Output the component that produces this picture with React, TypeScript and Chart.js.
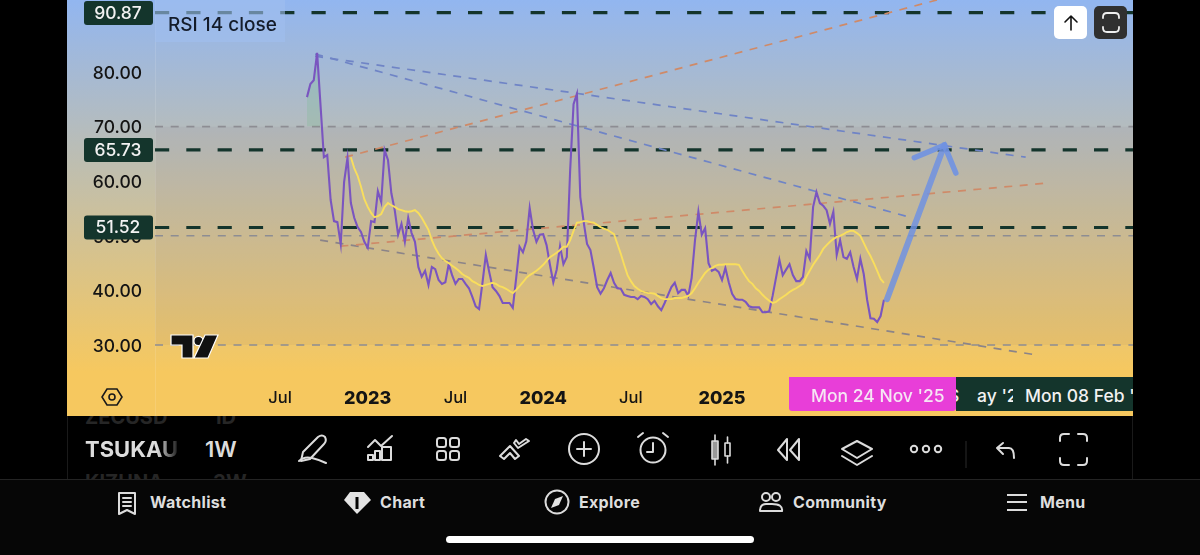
import React, { useEffect, useRef } from "react";
import { Chart, registerables } from "chart.js";

Chart.register(...registerables);

// weekly RSI(14), first point = week 0 (about late Aug 2022)
const rsiValues = [
  75.4,77.8,78.5,83.5,74.0,64.4,64.8,56.6,52.7,52.5,
  48.5,59.9,64.3,56.0,53.3,51.6,50.7,48.9,47.8,52.7,
  52.5,58.2,56.2,65.7,63.9,57.8,54.7,50.2,52.2,48.9,
  53.3,50.5,48.9,44.3,42.5,43.6,41.0,44.3,43.9,41.9,
  41.2,41.5,44.8,42.8,41.2,42.1,42.1,41.2,40.4,38.8,
  37.1,36.6,41.4,46.5,43.4,40.6,39.9,39.0,37.7,37.7,
  37.7,36.8,42.3,48.0,47.0,49.0,55.1,51.1,48.9,50.2,
  50.3,48.3,44.7,41.5,43.8,48.1,44.8,46.1,62.1,74.1,
  76.0,57.1,52.5,48.5,47.4,44.1,40.6,39.4,40.4,41.9,
  43.2,41.4,40.4,40.3,39.2,39.0,38.8,38.8,38.4,39.0,
  38.8,38.4,37.5,38.1,37.1,36.4,37.7,39.2,40.6,41.4,
  39.5,40.1,40.1,39.0,42.3,49.2,54.4,50.2,51.4,45.0,
  43.6,43.9,43.4,41.9,44.1,41.5,39.4,38.4,38.3,38.3,
  37.9,37.1,36.9,36.9,36.9,36.0,36.0,36.2,39.0,42.3,
  45.6,42.8,43.8,44.8,42.8,41.7,41.7,42.5,47.2,45.8,
  55.3,58.0,56.0,55.5,54.7,52.2,54.4,46.5,49.2,46.1,
  45.8,47.0,44.3,42.1,45.8,43.0,38.3,34.9,34.8,34.2,
  35.3,38.3,
];

// RSI moving average, starts at week 13
const maStartWeek = 13;
const maValues = [
  64.4,62.4,61.0,59.0,56.7,55.3,54.2,53.4,53.6,54.0,
  55.3,56.0,55.6,55.3,54.9,54.7,54.5,54.4,54.5,54.7,
  54.2,53.3,52.2,51.1,49.2,47.8,46.7,45.9,45.4,45.0,
  44.5,44.1,43.6,43.0,42.6,42.3,41.7,41.4,41.0,40.8,
  41.0,41.2,41.4,41.2,40.8,40.6,40.3,39.9,39.5,40.1,
  40.8,41.5,42.3,42.8,43.2,43.6,44.1,44.7,45.4,46.1,
  46.5,46.9,47.4,48.0,48.0,49.2,50.9,52.4,52.5,52.7,
  52.7,52.5,52.4,52.0,51.6,51.3,51.1,50.7,50.3,48.5,
  46.7,44.7,42.8,41.7,40.8,40.3,39.9,39.7,39.5,39.5,
  39.4,39.0,38.6,38.4,38.4,38.4,38.6,38.6,38.6,38.8,
  39.0,39.5,40.4,41.4,42.3,43.2,43.8,44.1,44.5,44.7,
  44.7,44.8,44.8,44.8,44.8,44.7,43.6,42.6,41.7,41.2,
  40.4,39.9,39.2,38.6,38.1,37.7,37.9,38.4,38.8,39.2,
  39.7,40.1,40.4,40.8,41.2,42.5,43.6,44.7,45.6,46.5,
  47.6,48.3,48.9,49.4,49.8,50.0,50.3,50.7,50.9,50.9,
  50.5,50.0,48.7,47.4,46.3,45.0,43.6,42.1,41.4,
];

const yTicks = [30, 40, 50, 60, 70, 80];
const xTickWeeks = [-8, 18, 44, 70, 96, 123];
const xTickLabels = ["Jul", "2023", "Jul", "2024", "Jul", "2025"];

const priceLevels = [90.87, 65.73, 51.52];
const bandLevels = [70, 50, 30];

const X_MIN = -45.05;
const X_MAX = 244.81;
const Y_MAX = 93.19;
const Y_MIN = 23.96;

// trend lines: [week, value] pairs
const blueUpper = [[2.4, 82.9], [213, 64.4]];
const blueLower = [[2.4, 83.3], [178.7, 53.4]];
const orangeUpper = [[11.3, 64.4], [186.7, 93.19]];
const orangeLower = [[9.9, 48.1], [220.2, 59.7]];
const grayLower = [[3.9, 49.2], [216, 28.2]];
const arrowShaft = [[171.9, 38.4], [188.9, 66.6]];
const arrowHead = [[180, 64.3], [188.9, 66.6], [192.3, 61.5]];

const pts = (a: number[][]) => a.map(([x, y]) => ({ x, y }));
const font = "Inter, 'Noto Sans', sans-serif";

const bgPlugin = {
  id: "bg",
  beforeDraw(c: any) {
    const { ctx, width, height, chartArea, scales } = c;
    const g = ctx.createLinearGradient(0, 0, 0, 372);
    g.addColorStop(0, "#92b6f0");
    g.addColorStop(1, "#f6c85f");
    ctx.save();
    ctx.fillStyle = g;
    ctx.fillRect(0, 0, width, height);
    const t = scales.y.getPixelForValue(70);
    const b = scales.y.getPixelForValue(30);
    ctx.fillStyle = "rgba(110,80,110,0.07)";
    ctx.fillRect(chartArea.left, t, chartArea.right - chartArea.left, b - t);
    ctx.fillStyle = "rgba(255,255,255,0.12)";
    ctx.fillRect(chartArea.left, 0, 1, height);
    ctx.restore();
  },
};

const tagPlugin = {
  id: "tags",
  afterDraw(c: any) {
    const { ctx, scales } = c;
    ctx.save();
    priceLevels.forEach((v) => {
      const y = scales.y.getPixelForValue(v);
      ctx.fillStyle = "#14352c";
      ctx.beginPath();
      ctx.roundRect(17, Math.max(y - 12, 1), 69, 24, 3);
      ctx.fill();
      ctx.fillStyle = "#f2f2f2";
      ctx.font = `500 17.5px ${font}`;
      ctx.textAlign = "center";
      ctx.textBaseline = "middle";
      ctx.fillText(v.toFixed(2), 51, Math.max(y, 13) + 0.5);
    });
    ctx.restore();
  },
};

const stroke = { stroke: "#dcdcdc", strokeWidth: 2, fill: "none", strokeLinecap: "round", strokeLinejoin: "round" } as const;

const ToolbarIcons = () => (
  <svg width={1200} height={555} style={{ position: "absolute", left: 0, top: 0, pointerEvents: "none" }}>
    {/* pen */}
    <g {...stroke}>
      <path d="M303 452 L318 437 Q322 434 325 437 Q327 441 324 444 L310 459 L301 461 Z" />
      <path d="M299 461 Q304 456 312 458 Q320 460 326 463" />
    </g>
    {/* chart */}
    <g {...stroke}>
      <path d="M368 447 L375 440 L381 446 L392 436" />
      <rect x="368" y="455" width="5" height="5" />
      <rect x="375" y="451" width="5" height="9" />
      <rect x="382" y="447" width="9" height="13" />
    </g>
    {/* grid */}
    <g {...stroke}>
      <rect x="437" y="438" width="9" height="9" rx="2.5" />
      <rect x="450" y="438" width="9" height="9" rx="2.5" />
      <rect x="437" y="451" width="9" height="9" rx="2.5" />
      <rect x="450" y="451" width="9" height="9" rx="2.5" />
    </g>
    {/* patterns */}
    <g {...stroke}>
      <path d="M500 456 L510 446 L519 456 L515 459 L510 453 L504 459 Z" />
      <path d="M514 443 L518 448 L529 441 L526 439 L519 444 L516 440 Z" />
    </g>
    {/* plus */}
    <g {...stroke}>
      <circle cx="584" cy="449" r="15" />
      <path d="M584 442 V456 M577 449 H591" />
    </g>
    {/* alarm */}
    <g {...stroke}>
      <circle cx="653" cy="450" r="12.5" />
      <path d="M653 443 V452 H647 M638 437 L643 433 M668 437 L663 433" />
    </g>
    {/* candles */}
    <g {...stroke} strokeWidth={1.6}>
      <rect x="712" y="441" width="6" height="18" fill="#999" />
      <path d="M715 435 V441 M715 459 V465" />
      <rect x="725" y="443" width="5" height="13" />
      <path d="M727.5 437 V443 M727.5 456 V463" />
    </g>
    {/* replay */}
    <g {...stroke}>
      <path d="M787 439 L778 450 L787 460 Z M799 439 L790 450 L799 460 Z" />
    </g>
    {/* layers */}
    <g {...stroke}>
      <path d="M857 441 L872 449 L857 458 L842 449 Z" />
      <path d="M842 456 L857 465 L872 456" />
    </g>
    {/* dots */}
    <g {...stroke}>
      <circle cx="914" cy="449" r="3.2" />
      <circle cx="926" cy="449" r="3.2" />
      <circle cx="938" cy="449" r="3.2" />
    </g>
    <path d="M966 441 V468" stroke="#2a2a2a" strokeWidth={1} />
    {/* undo */}
    <g {...stroke}>
      <path d="M1003 443 L997 448 L1003 454 M997 448 H1009 Q1014 448 1014 458" />
    </g>
    {/* fullscreen */}
    <g {...stroke}>
      <path d="M1060 441 V438 Q1060 434 1064 434 H1069 M1078 434 H1083 Q1087 434 1087 438 V441 M1060 458 V461 Q1060 465 1064 465 H1069 M1078 465 H1083 Q1087 465 1087 461 V458" />
    </g>
    {/* nav icons */}
    <g {...stroke}>
      <path d="M119 493 H135 V514 L127 510 L119 514 Z M123 498 H131 M123 502 H131 M123 506 H131" />
    </g>
    <path d="M350 492 H364 L371 500 L357 514 L344 500 Z" fill="#e4e4e4" />
    <path d="M357 497 V509" stroke="#060606" strokeWidth={3} />
    <g {...stroke}>
      <circle cx="557" cy="502" r="11.5" />
    </g>
    <path d="M563 496 L559 505 L551 508 L555 499 Z" fill="#e4e4e4" />
    <g {...stroke}>
      <circle cx="766" cy="497" r="4" />
      <circle cx="776" cy="497" r="4" />
      <path d="M760 511 Q760 504 766 504 H772 Q783 504 782 511 Z" />
    </g>
    <path d="M1007 495 H1027 M1007 502 H1027 M1007 510 H1027" stroke="#dcdcdc" strokeWidth={2} />
    {/* hexagon settings */}
    <g stroke="#1a1a1a" strokeWidth={1.6} fill="none">
      <path d="M107 389 H117 L122 397 L117 405 H107 L102 397 Z" />
      <circle cx="112" cy="397" r="3" />
    </g>
    {/* logo */}
    <g fill="#111" stroke="#fff" strokeWidth={1.2}>
      <path d="M171 335 H193 V358 H182 V345 H171 Z" />
      <circle cx="198.5" cy="341" r="4.6" />
      <path d="M205 335 H218 L208 358 H194 Z" />
    </g>
    {/* top right buttons */}
    <path d="M1071 30 V16 M1065 22 L1071 16 L1077 22" stroke="#111" strokeWidth={1.6} fill="none" strokeLinecap="round" strokeLinejoin="round" />
    <path d="M1103 18 V17 Q1103 13 1107 13 H1115 Q1119 13 1119 17 V18 M1103 27 V28 Q1103 32 1107 32 H1115 Q1119 32 1119 28 V27" stroke="#eee" strokeWidth={1.8} fill="none" strokeLinecap="round" />
  </svg>
);

const T = ({ x, y, s, c = "#dedede", w = 700, ls = 0, children }: any) => (
  <div style={{ position: "absolute", left: x, top: y, fontFamily: font, fontSize: s, color: c, fontWeight: w, letterSpacing: ls, lineHeight: "1", whiteSpace: "nowrap" }}>
    {children}
  </div>
);

export default function App() {
  const ref = useRef<HTMLCanvasElement>(null);
  useEffect(() => {
    document.body.style.margin = "0";
    document.body.style.background = "#000";
    const levelLine = (v: number, color: string, width: number, dash: number[]) => ({
      data: [{ x: X_MIN, y: v }, { x: X_MAX, y: v }],
      borderColor: color,
      borderWidth: width,
      borderDash: dash,
    });
    const trend = (a: number[][], color: string) => ({
      data: pts(a),
      borderColor: color,
      borderWidth: 1.7,
      borderDash: [8, 7.5],
    });
    const chart = new Chart(ref.current!, {
      type: "line",
      data: {
        datasets: [
          { data: pts(arrowShaft), borderColor: "rgba(112,146,226,0.85)", borderWidth: 6, borderCapStyle: "round" },
          { data: pts(arrowHead), borderColor: "rgba(112,146,226,0.9)", borderWidth: 5.5, borderCapStyle: "round" },
          { data: maValues.map((y, i) => ({ x: maStartWeek + i, y })), borderColor: "#f9de5c", borderWidth: 1.9 },
          { data: rsiValues.map((y, i) => ({ x: i, y })), borderColor: "#7a55c0", borderWidth: 2.1 },
          {
            data: rsiValues.slice(0, 5).map((y, i) => ({ x: i, y })),
            borderColor: "transparent",
            borderWidth: 0,
            fill: { value: 70, above: "rgba(110,185,130,0.22)", below: "transparent" },
          },
          trend(blueUpper, "#6f84c6"),
          trend(blueLower, "#6f84c6"),
          trend(orangeUpper, "#cf8a68"),
          trend(orangeLower, "#cf8a68"),
          trend(grayLower, "#8b8488"),
          ...priceLevels.map((v) => levelLine(v, "#14352c", 3.2, [14.2, 17.1])),
          ...bandLevels.map((v) => levelLine(v, "#8d8d93", 1.6, [8, 7.7])),
        ] as any,
      },
      options: {
        responsive: false,
        animation: false,
        layout: { padding: 0 },
        elements: { point: { radius: 0 }, line: { tension: 0 } },
        plugins: { legend: { display: false }, tooltip: { enabled: false } },
        events: [],
        scales: {
          x: {
            type: "linear",
            min: X_MIN,
            max: X_MAX,
            grid: { display: false, drawTicks: false },
            border: { display: false },
            afterBuildTicks: (a: any) => { a.ticks = xTickWeeks.map((value) => ({ value })); },
            afterFit: (a: any) => { a.height = 38; a.paddingLeft = 0; a.paddingRight = 0; },
            ticks: {
              autoSkip: false,
              maxRotation: 0,
              padding: 10,
              color: "#141414",
              callback: (v: any) => xTickLabels[xTickWeeks.indexOf(v)],
              font: (c: any) => /^20/.test(xTickLabels[c.index] || "")
                ? { family: font, size: 18, weight: 800 }
                : { family: font, size: 16.5, weight: 500 },
            },
          },
          y: {
            min: Y_MIN,
            max: Y_MAX,
            grid: { display: false, drawTicks: false },
            border: { display: false },
            afterBuildTicks: (a: any) => { a.ticks = yTicks.map((value) => ({ value })); },
            afterFit: (a: any) => { a.width = 88; a.paddingTop = 0; a.paddingBottom = 0; },
            ticks: {
              padding: 13,
              labelOffset: 1.5,
              color: "#141414",
              font: { family: font, size: 17.5, weight: 500 },
              callback: (v: any) => Number(v).toFixed(2),
            },
          },
        },
      } as any,
      plugins: [bgPlugin, tagPlugin] as any,
    });
    return () => chart.destroy();
  }, []);

  return (
    <div style={{ position: "fixed", left: 0, top: 0, width: 1200, height: 555, background: "#000", overflow: "hidden" }}>
      <canvas ref={ref} width={1066} height={416} style={{ position: "absolute", left: 67, top: 0, width: 1066, height: 416 }} />
      {/* legend */}
      <div style={{ position: "absolute", left: 155, top: 0, width: 130, height: 42, background: "rgba(160,190,238,0.6)" }} />
      <T x={168} y={15} s={19} c="#141c2a" w={500}>RSI 14 close</T>
      {/* date pills */}
      <div style={{ position: "absolute", left: 956, top: 377, width: 177, height: 34, background: "#14352c", overflow: "hidden" }}>
        <T x={-8} y={10} s={17.5} c="#f2f2f2" w={500}>S</T>
        <div style={{ position: "absolute", left: 21, top: 0, width: 36, height: 34, overflow: "hidden" }}>
          <T x={0} y={10} s={17.5} c="#f2f2f2" w={500}>ay '2</T>
        </div>
        <T x={69} y={10} s={17.5} c="#f2f2f2" w={500}>Mon 08 Feb '</T>
      </div>
      <div style={{ position: "absolute", left: 789, top: 377, width: 167, height: 34, background: "#e83ed8", borderRadius: "0 0 3px 3px" }}>
        <T x={22} y={10} s={17.5} c="#f6e6f4" w={500}>Mon 24 Nov '25</T>
      </div>
      {/* top right buttons */}
      <div style={{ position: "absolute", left: 1054, top: 6, width: 33, height: 33, background: "#fff", borderRadius: 5 }} />
      <div style={{ position: "absolute", left: 1094, top: 6, width: 33, height: 33, background: "#303030", borderRadius: 5 }} />
      {/* toolbar */}
      <div style={{ position: "absolute", left: 67, top: 416, width: 1066, height: 63, borderLeft: "1px solid #1a1a1a", borderRight: "1px solid #1a1a1a", boxSizing: "border-box", overflow: "hidden" }}>
        <T x={17} y={-9} s={20} c="#262626">ZECUSD</T>
        <T x={145} y={-9} s={20} c="#262626">1D</T>
        <T x={17} y={56} s={20} c="#262626">KIZUNA</T>
        <T x={145} y={56} s={20} c="#262626">3W</T>
      </div>
      <div style={{ position: "absolute", left: 85, top: 436, width: 96, height: 28, overflow: "hidden", WebkitMaskImage: "linear-gradient(90deg,#000 75%,transparent)", maskImage: "linear-gradient(90deg,#000 75%,transparent)" }}>
        <T x={0} y={2} s={22} c="#dcdcdc">TSUKAU</T>
      </div>
      <T x={205} y={438} s={22} c="#dcdcdc" w={600}>1W</T>
      <div style={{ position: "absolute", left: 0, top: 479, width: 1200, height: 76, background: "#060606", borderTop: "1px solid #242424", boxSizing: "border-box" }} />
      <T x={150} y={494} s={16} ls={0.3}>Watchlist</T>
      <T x={380} y={494} s={16} ls={0.3}>Chart</T>
      <T x={579} y={494} s={16} ls={0.3}>Explore</T>
      <T x={793} y={494} s={16} ls={0.3}>Community</T>
      <T x={1040} y={494} s={16} ls={0.3}>Menu</T>
      <div style={{ position: "absolute", left: 446, top: 536, width: 308, height: 7, background: "#fff", borderRadius: 4 }} />
      <ToolbarIcons />
    </div>
  );
}
